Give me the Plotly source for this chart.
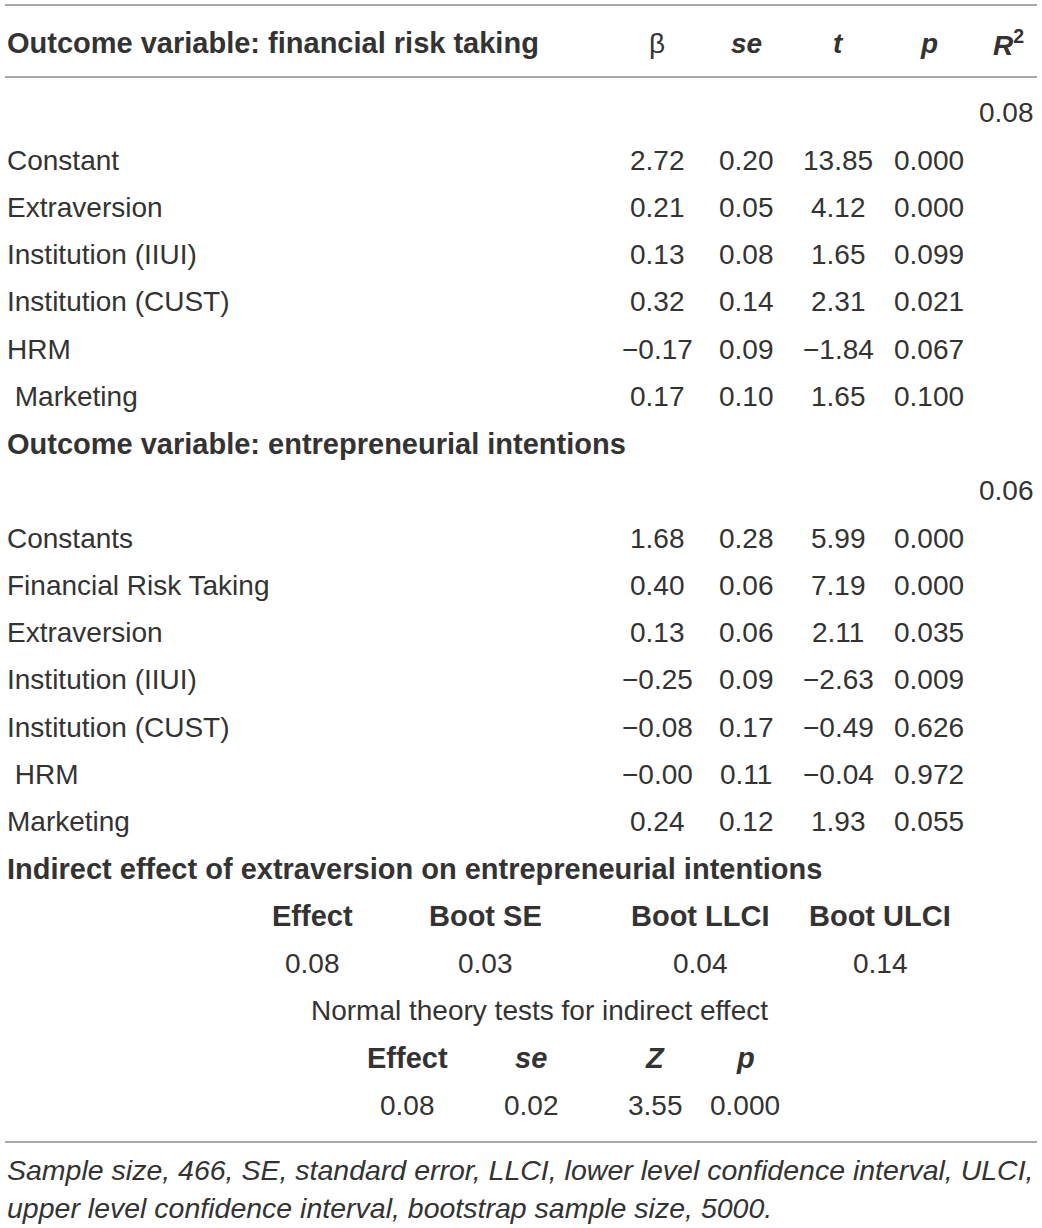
import plotly.graph_objects as go

# regression block 1: outcome = financial risk taking
block1_title = "Outcome variable: financial risk taking"
block1_r2 = "0.08"
block1_labels = ["Constant", "Extraversion", "Institution (IIUI)", "Institution (CUST)", "HRM", " Marketing"]
block1_beta = ["2.72", "0.21", "0.13", "0.32", "\u22120.17", "0.17"]
block1_se = ["0.20", "0.05", "0.08", "0.14", "0.09", "0.10"]
block1_t = ["13.85", "4.12", "1.65", "2.31", "\u22121.84", "1.65"]
block1_p = ["0.000", "0.000", "0.099", "0.021", "0.067", "0.100"]

# regression block 2: outcome = entrepreneurial intentions
block2_title = "Outcome variable: entrepreneurial intentions"
block2_r2 = "0.06"
block2_labels = ["Constants", "Financial Risk Taking", "Extraversion", "Institution (IIUI)",
                 "Institution (CUST)", " HRM", "Marketing"]
block2_beta = ["1.68", "0.40", "0.13", "\u22120.25", "\u22120.08", "\u22120.00", "0.24"]
block2_se = ["0.28", "0.06", "0.06", "0.09", "0.17", "0.11", "0.12"]
block2_t = ["5.99", "7.19", "2.11", "\u22122.63", "\u22120.49", "\u22120.04", "1.93"]
block2_p = ["0.000", "0.000", "0.035", "0.009", "0.626", "0.972", "0.055"]

col_headers = ["\u03b2", "<b><i>se</i></b>", "<b><i>t</i></b>", "<b><i>p</i></b>", "<b><i>R</i><sup>2</sup></b>"]

# indirect effect (bootstrap)
indirect_title = "Indirect effect of extraversion on entrepreneurial intentions"
boot_headers = ["Effect", "Boot SE", "Boot LLCI", "Boot ULCI"]
boot_values = ["0.08", "0.03", "0.04", "0.14"]

# normal theory test
normal_title = "Normal theory tests for indirect effect"
normal_headers = ["Effect", "<i>se</i>", "<i>Z</i>", "<i>p</i>"]
normal_values = ["0.08", "0.02", "3.55", "0.000"]

footnote = ["Sample size, 466, SE, standard error, LLCI, lower level confidence interval, ULCI,",
            "upper level confidence interval, bootstrap sample size, 5000."]

FONT = "Liberation Sans, Arial, sans-serif"
TXT = "#333333"
SIZE = 28

col_x = [657, 746, 838, 929, 1008]
boot_x = [312, 485, 700, 880]
normal_x = [407, 531, 655, 745]

ROW0 = 65.5
STEP = 47.25


def row_y(k):
    return ROW0 + STEP * k


fig = go.Figure()
ann = []


def txt(x, y, s, anchor="left", bold=False, italic=False, size=SIZE):
    if bold:
        s = "<b>" + s + "</b>"
        size = size + 1
    if italic:
        s = "<i>" + s + "</i>"
    ann.append(dict(x=x, y=y, xref="x", yref="y", text=s, showarrow=False,
                    xanchor=anchor, yanchor="middle",
                    font=dict(family=FONT, size=size, color=TXT)))


# header row
txt(5, 43, block1_title, bold=True)
for x, h in zip(col_x, col_headers):
    txt(x, 43, h, anchor="center")


def block(start, title, r2, labels, beta, se, t, p):
    k = start
    if title:
        txt(5, row_y(k), title, bold=True)
        k += 1
    txt(1036, row_y(k), r2, anchor="right")
    k += 1
    for i in range(len(labels)):
        y = row_y(k + i)
        txt(5, y, labels[i])
        for x, v in zip(col_x[:4], [beta[i], se[i], t[i], p[i]]):
            txt(x, y, v, anchor="center")
    return k + len(labels)


k = block(1, None, block1_r2, block1_labels, block1_beta, block1_se, block1_t, block1_p)
k = block(k, block2_title, block2_r2, block2_labels, block2_beta, block2_se, block2_t, block2_p)

txt(5, row_y(k), indirect_title, bold=True)
for x, h in zip(boot_x, boot_headers):
    txt(x, row_y(k + 1), h, anchor="center", bold=True)
for x, v in zip(boot_x, boot_values):
    txt(x, row_y(k + 2), v, anchor="center")
txt(539, row_y(k + 3), normal_title, anchor="center")
for x, h in zip(normal_x, normal_headers):
    txt(x, row_y(k + 4), h, anchor="center", bold=True)
for x, v in zip(normal_x, normal_values):
    txt(x, row_y(k + 5), v, anchor="center")

txt(5, 1170, footnote[0], italic=True, size=28.5)
txt(5, 1208, footnote[1], italic=True, size=28.5)

line = dict(color="#a8a8a8", width=2)
shapes = [dict(type="line", xref="x", yref="y", x0=5, x1=1037, y0=y, y1=y, line=line)
          for y in (5, 77, 1142)]

fig.update_layout(
    width=1042, height=1228,
    margin=dict(l=0, r=0, t=0, b=0),
    paper_bgcolor="white", plot_bgcolor="white",
    xaxis=dict(range=[0, 1042], visible=False, fixedrange=True),
    yaxis=dict(range=[1228, 0], visible=False, fixedrange=True),
    annotations=ann, shapes=shapes, showlegend=False,
)

# drop the default body margin so the figure fills the window exactly
fig.write_html("out.html", config={"displayModeBar": False},
               post_script="document.body.style.margin='0';")
